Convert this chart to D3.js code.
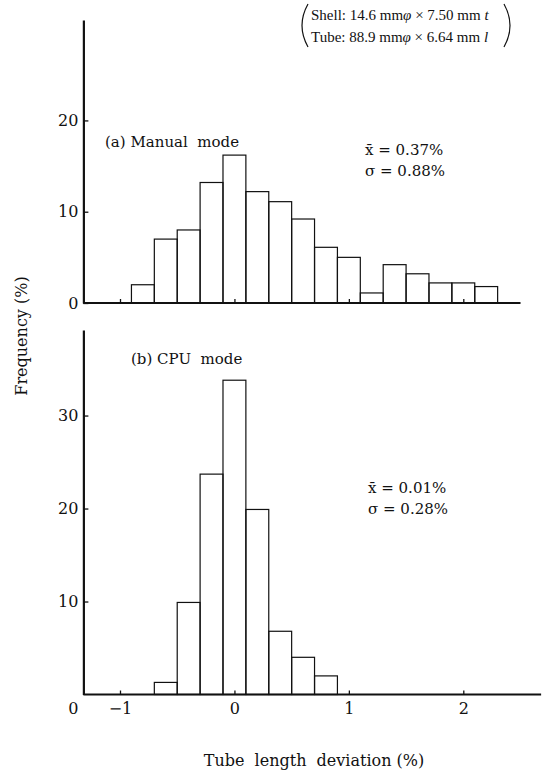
<!DOCTYPE html>
<html>
<head>
<meta charset="utf-8">
<script src="https://cdn.jsdelivr.net/npm/d3@7/dist/d3.min.js"></script>
<style>
  body { margin: 0; background: #fff; }
  svg text { font-family: "DejaVu Serif", "Liberation Serif", serif; fill: #111; }
</style>
</head>
<body>
<div id="chart"></div>
<script>
// data: left edges of 0.2 % bins and frequency (%) of each bin
var binWidth = 0.2;
var manualBins = [-0.9, -0.7, -0.5, -0.3, -0.1, 0.1, 0.3, 0.5, 0.7, 0.9, 1.1, 1.3, 1.5, 1.7, 1.9, 2.1];
var manualFreq = [2, 7, 8, 13.2, 16.2, 12.2, 11.1, 9.2, 6.1, 5, 1.1, 4.2, 3.2, 2.2, 2.2, 1.8];
var cpuBins = [-0.7, -0.5, -0.3, -0.1, 0.1, 0.3, 0.5, 0.7];
var cpuFreq = [1.3, 9.9, 23.7, 33.8, 19.9, 6.8, 4, 2];
var xTicks = [-1, 0, 1, 2];
var manualYTicks = [0, 10, 20];
var cpuYTicks = [10, 20, 30];
var manualStats = ["x̄ = 0.37%", "σ = 0.88%"];
var cpuStats = ["x̄ = 0.01%", "σ = 0.28%"];

// size
var width = 544;
var height = 770;
var ink = "#111";

var svg = d3.select("#chart")
            .append("svg")
            .attr("width", width)
            .attr("height", height);

// scales
var xScale = d3.scaleLinear().domain([-1, 2]).range([120, 463.3]);
var xMin = -1.32;
var yTop = d3.scaleLinear().domain([0, 31]).range([303, 20]);
var yBot = d3.scaleLinear().domain([0, 39.2]).range([694.5, 330]);

function panel(bins, freq, yScale, yTicks, xEnd, cls) {
  var g = svg.append("g").attr("class", cls);
  var data = bins.map(function(b, i) { return {x0: b, f: freq[i]}; });

  // bars
  g.selectAll(".bar")
   .data(data)
   .enter().append("rect")
   .attr("class", "bar")
   .attr("x", function(d) { return xScale(d.x0); })
   .attr("width", function(d) { return xScale(d.x0 + binWidth) - xScale(d.x0); })
   .attr("y", function(d) { return yScale(d.f); })
   .attr("height", function(d) { return yScale(0) - yScale(d.f); })
   .attr("fill", "none")
   .attr("stroke", ink)
   .attr("stroke-width", 1.2);

  // y axis
  var yAxis = d3.axisLeft(yScale)
                .tickValues(yTicks)
                .tickSizeInner(-5)
                .tickSizeOuter(0)
                .tickPadding(5)
                .tickFormat(d3.format("d"));
  var ya = g.append("g")
            .attr("transform", "translate(" + xScale(xMin) + ",0)")
            .call(yAxis);
  ya.select(".domain").attr("stroke", ink).attr("stroke-width", 2.2);
  ya.selectAll(".tick line").attr("stroke", ink).attr("stroke-width", 1.3);
  ya.selectAll(".tick text").attr("font-size", 16).attr("fill", ink);

  // baseline with small ticks
  var xAxis = d3.axisBottom(xScale)
                .tickValues(xTicks)
                .tickSizeInner(-4)
                .tickSizeOuter(0)
                .tickPadding(8);
  var xa = g.append("g")
            .attr("transform", "translate(0," + yScale(0) + ")")
            .call(xAxis);
  xa.select(".domain")
    .attr("d", "M" + xScale(xMin) + ",0H" + xScale(xEnd))
    .attr("stroke", ink).attr("stroke-width", 2.2);
  xa.selectAll(".tick line").attr("stroke", ink).attr("stroke-width", 1.3);
  xa.selectAll(".tick text").attr("font-size", 16).attr("fill", ink);
  return xa;
}

var topAxis = panel(manualBins, manualFreq, yTop, manualYTicks, 2.5, "manual");
topAxis.selectAll(".tick text").remove();
var botAxis = panel(cpuBins, cpuFreq, yBot, cpuYTicks, 2.68, "cpu");
botAxis.selectAll(".tick text").text(function(d) { return d < 0 ? "\u2212" + Math.abs(d) : d; });

// zero label of the lower panel sits on the x tick label row
svg.append("text")
   .attr("x", xScale(xMin) - 5)
   .attr("y", yBot(0) + 8)
   .attr("dy", "0.71em")
   .attr("text-anchor", "end")
   .attr("font-size", 16)
   .text("0");

// panel titles
svg.append("text").attr("x", 105).attr("y", 147).attr("font-size", 15)
   .attr("xml:space", "preserve").text("(a) Manual  mode");
svg.append("text").attr("x", 131).attr("y", 364).attr("font-size", 15)
   .attr("xml:space", "preserve").text("(b) CPU  mode");

// statistics
svg.selectAll(".stat-a")
   .data(manualStats)
   .enter().append("text")
   .attr("class", "stat-a")
   .attr("x", 365)
   .attr("y", function(d, i) { return 155 + i * 21; })
   .attr("font-size", 15)
   .text(function(d) { return d; });
svg.selectAll(".stat-b")
   .data(cpuStats)
   .enter().append("text")
   .attr("class", "stat-b")
   .attr("x", 368)
   .attr("y", function(d, i) { return 493 + i * 21; })
   .attr("font-size", 15)
   .text(function(d) { return d; });

// tube spec note, in brackets
var note = svg.append("g");
var l1 = note.append("text").attr("x", 311).attr("y", 20)
             .style("font-family", "Liberation Serif").attr("font-size", 15);
l1.append("tspan").text("Shell: 14.6 mm");
l1.append("tspan").attr("font-style", "italic").text("φ");
l1.append("tspan").text(" × 7.50 mm ");
l1.append("tspan").attr("font-style", "italic").text("t");
var l2 = note.append("text").attr("x", 311).attr("y", 42)
             .style("font-family", "Liberation Serif").attr("font-size", 15);
l2.append("tspan").text("Tube: 88.9 mm");
l2.append("tspan").attr("font-style", "italic").text("φ");
l2.append("tspan").text(" × 6.64 mm ");
l2.append("tspan").attr("font-style", "italic").text("l");
note.append("path")
    .attr("d", "M308,4Q296,25.5,308,47M504,4Q516,25.5,504,47")
    .attr("fill", "none")
    .attr("stroke", ink)
    .attr("stroke-width", 1.2);

// axis titles
svg.append("text")
   .attr("transform", "translate(27,336) rotate(-90)")
   .attr("text-anchor", "middle")
   .attr("font-size", 16)
   .text("Frequency (%)");
svg.append("text")
   .attr("x", 314)
   .attr("y", 766)
   .attr("text-anchor", "middle")
   .attr("font-size", 16)
   .attr("xml:space", "preserve")
   .text("Tube  length  deviation (%)");
</script>
</body>
</html>
